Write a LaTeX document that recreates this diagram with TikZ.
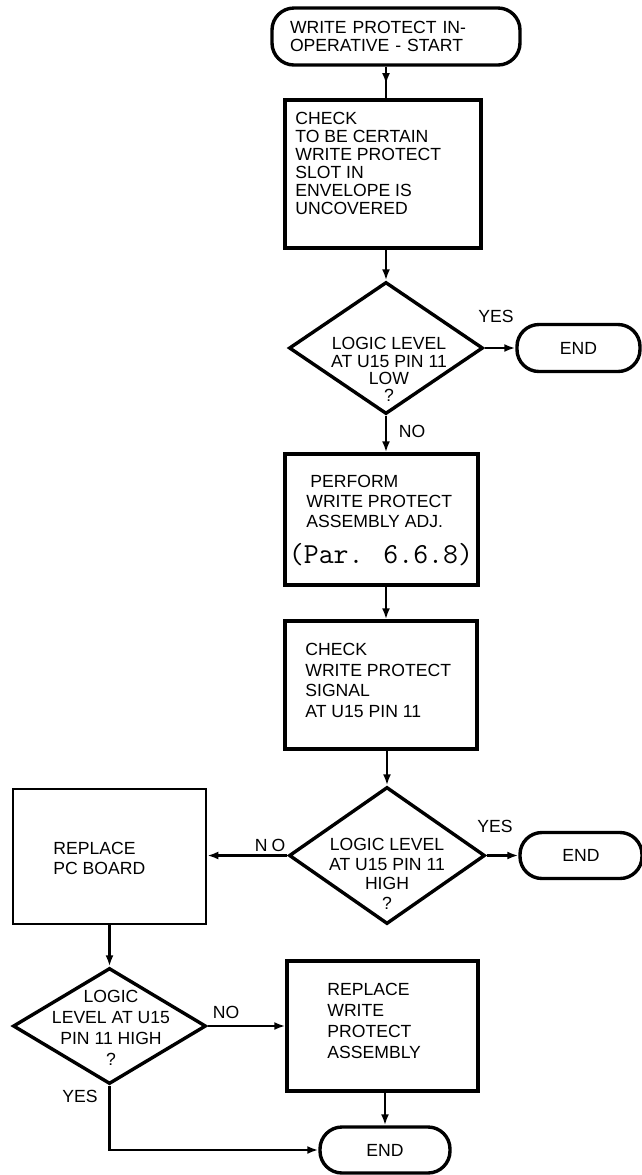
\documentclass[tikz,border=0pt]{standalone}
\usepackage{fontspec}
\setmainfont{Liberation Sans}
\usetikzlibrary{arrows.meta,shapes.geometric,decorations.markings}
\begin{document}
\begin{tikzpicture}[x=0.5pt,y=-0.5pt,
  term/.style={draw, line width=1.7pt, rounded corners=11pt, inner sep=0pt, font=\fontsize{8.8}{9}\selectfont},
  box/.style={draw, line width=1.7pt, inner sep=0pt},
  dia/.style={draw, diamond, line width=1.7pt, inner sep=0pt},
  txt/.style={inner sep=0pt, align=left, font=\fontsize{8.8}{9}\selectfont},
  lbl/.style={inner sep=0pt, font=\fontsize{8.8}{9}\selectfont},
  conn/.style={line width=1.1pt, -{Latex[length=5.5pt,width=4pt]}},
  midarrow/.style={line width=1.1pt, postaction={decorate},
    decoration={markings, mark=at position 0.55 with {\arrow{Latex[length=5.5pt,width=4pt]}}}}
]
\useasboundingbox (0,0) rectangle (642,1175);

% start terminal
\node[term, minimum width=124pt, minimum height=28.5pt, text width=106pt, inner xsep=9pt, align=left] (start) at (396,36.5) {WRITE PROTECT IN-\\OPERATIVE - START};

% box 1
\node[box, minimum width=98pt, minimum height=74pt] (b1) at (383,174) {};
\node[txt, anchor=north west] (b1t) at (295,112) {CHECK\\TO BE CERTAIN\\WRITE PROTECT\\SLOT IN\\ENVELOPE IS\\UNCOVERED};

% decision 1
\node[dia, minimum width=97pt, minimum height=66pt] (d1) at (386,348) {};
\node[txt, align=center, anchor=north, font=\fontsize{8.8}{8.7}\selectfont] (d1t) at (389,337) {LOGIC LEVEL\\AT U15 PIN 11\\LOW\\?};
\node[term, minimum width=61.5pt, minimum height=23.5pt] (end1) at (578.5,348) {END};

% perform box
\node[box, minimum width=96.5pt, minimum height=65.5pt] (p1) at (381.5,519.5) {};
\node[txt, anchor=north west, font=\fontsize{8.8}{10}\selectfont] (p1t) at (306,475) {\hspace{2pt}PERFORM\\WRITE PROTECT\\ASSEMBLY ADJ.};
\node[inner sep=0pt, font=\ttfamily\fontsize{14.5}{14.5}\selectfont] (p1par) at (381,555) {(Par. 6.6.8)};

% check box 2
\node[box, minimum width=96pt, minimum height=64pt] (c2) at (381,685) {};
\node[txt, anchor=north west, font=\fontsize{8.8}{10.3}\selectfont] (c2t) at (305,643) {CHECK\\WRITE PROTECT\\SIGNAL\\AT U15 PIN 11};

% decision 2
\node[dia, minimum width=98pt, minimum height=68.5pt] (d2) at (387,855.5) {};
\node[txt, align=center, anchor=north, font=\fontsize{8.8}{9.75}\selectfont] (d2t) at (387,838) {LOGIC LEVEL\\AT U15 PIN 11\\HIGH\\?};
\node[term, minimum width=61pt, minimum height=23pt] (end2) at (581,855.5) {END};

% replace pc board
\node[box, line width=1.3pt, minimum width=96.5pt, minimum height=67.5pt] (pc) at (109.5,856.5) {};
\node[txt, anchor=west, font=\fontsize{8.8}{10}\selectfont] (pct) at (53,858) {REPLACE\\PC BOARD};

% decision 3
\node[dia, minimum width=96.5pt, minimum height=58pt] (d3) at (109.5,1026) {};
\node[txt, align=center, anchor=north, font=\fontsize{8.8}{10.5}\selectfont] (d3t) at (111,990) {LOGIC\\LEVEL AT U15\\PIN 11 HIGH\\?};

% replace write protect assembly
\node[box, minimum width=95.5pt, minimum height=65pt] (rwp) at (382.5,1026) {};
\node[txt, anchor=north west, font=\fontsize{8.8}{10.5}\selectfont] (rwpt) at (327,983) {REPLACE\\WRITE\\PROTECT\\ASSEMBLY};
\node[term, minimum width=65pt, minimum height=23pt] (end3) at (385,1150) {END};

% connectors
\draw[midarrow] (start.south -| d1.north) -- (b1.north -| d1.north);
\draw[conn] (b1.south -| d1.north) -- (d1.north);
\draw[conn] (d1.east) -- (end1.west);
\draw[conn] (d1.south) -- (p1.north -| d1.south);
\draw[conn] (p1.south -| d1.south) -- (c2.north -| d1.south);
\draw[conn] (c2.south -| d2.north) -- (d2.north);
\draw[conn] (d2.east) -- (end2.west);
\draw[conn] (d2.west) -- (d2.west -| pc.east);
\draw[conn] (pc.south -| d3.north) -- (d3.north);
\draw[conn] (d3.east) -- (rwp.west);
\draw[conn] (rwp.south -| end3.north) -- (end3.north);
\draw[conn] (d3.south) |- (end3.west);

% labels
\node[lbl] (yes1) at (496,316) {YES};
\node[lbl] (no1) at (412,431) {NO};
\node[lbl] (yes2) at (495,826) {YES};
\node[lbl] (no2) at (270,845) {N\hspace{2pt}O};
\node[lbl] (no3) at (226,1012) {NO};
\node[lbl] (yes3) at (80,1096) {YES};
\end{tikzpicture}
\end{document}
